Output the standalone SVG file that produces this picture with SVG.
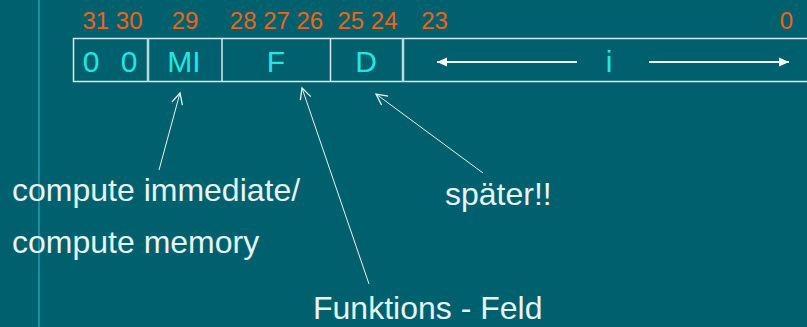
<svg xmlns="http://www.w3.org/2000/svg" width="807" height="327" viewBox="0 0 807 327">
  <defs>
    <style>
      .bits { font-family: "Liberation Sans", Arial, sans-serif; font-size: 24px; fill: #f06414; text-anchor: middle; }
      .field { font-family: "Liberation Sans", Arial, sans-serif; font-size: 30px; fill: #22e6e0; text-anchor: middle; }
      .label { font-family: "Liberation Sans", Arial, sans-serif; font-size: 32px; fill: #e6f4f4; }
      .frame { stroke: #d4ecec; stroke-width: 1.5; fill: none; }
      .sep { stroke: #b8dcdc; stroke-width: 2.5; }
      .conn { stroke: #e6f4f4; stroke-width: 1; fill: none; }
      .span { stroke: #e6f4f4; stroke-width: 2; }
    </style>
    <marker id="openHead" markerWidth="14" markerHeight="14" refX="12" refY="7" orient="auto" markerUnits="userSpaceOnUse">
      <path d="M1,1.5 L12,7 L1,12.5" fill="none" stroke="#e6f4f4" stroke-width="1.3"/>
    </marker>
    <marker id="solidHead" markerWidth="12" markerHeight="10" refX="10" refY="5" orient="auto" markerUnits="userSpaceOnUse">
      <path d="M0,0.5 L10,5 L0,9.5 Z" fill="#ffffff"/>
    </marker>
  </defs>

  <!-- slide background and margin rule -->
  <rect x="0" y="0" width="807" height="327" fill="#00606e"/>
  <line x1="39" y1="0" x2="39" y2="327" stroke="#1290a8" stroke-width="2"/>

  <!-- bit numbers -->
  <g id="bit-numbers">
    <text class="bits" x="112.5" y="29">31 30</text>
    <text class="bits" x="185" y="29">29</text>
    <text class="bits" x="276.5" y="29">28 27 26</text>
    <text class="bits" x="367.5" y="29">25 24</text>
    <text class="bits" x="434.5" y="29">23</text>
    <text class="bits" x="786.5" y="29">0</text>
  </g>

  <!-- instruction word -->
  <g id="word">
    <path class="frame" d="M808,38.5 H73.5 V81.5 H808"/>
  </g>
  <g id="field-00">
    <text class="field" x="91" y="71.5">0</text>
    <text class="field" x="129" y="71.5">0</text>
    <line class="sep" x1="148" y1="38" x2="148" y2="82"/>
  </g>
  <g id="field-MI">
    <text class="field" x="184" y="71.5">MI</text>
    <line class="frame" x1="222" y1="38" x2="222" y2="82"/>
  </g>
  <g id="field-F">
    <text class="field" x="276" y="71.5">F</text>
    <line class="frame" x1="330.5" y1="38" x2="330.5" y2="82"/>
  </g>
  <g id="field-D">
    <text class="field" x="366" y="71.5">D</text>
    <line class="sep" x1="403" y1="38" x2="403" y2="82"/>
  </g>
  <g id="field-i">
    <text class="field" x="609" y="71.5">i</text>
    <line class="span" x1="577" y1="62" x2="437" y2="62" marker-end="url(#solidHead)"/>
    <line class="span" x1="649" y1="62" x2="789" y2="62" marker-end="url(#solidHead)"/>
  </g>

  <!-- annotations -->
  <g id="label-compute">
    <text class="label" x="12" y="201">compute immediate/</text>
    <text class="label" x="12" y="253">compute memory</text>
  </g>
  <g id="label-spaeter">
    <text class="label" x="445" y="205">später!!</text>
  </g>
  <g id="label-funktion">
    <text class="label" x="313" y="319">Funktions - Feld</text>
  </g>

  <!-- pointer lines -->
  <g id="connectors">
    <line class="conn" x1="159" y1="170" x2="180" y2="93" marker-end="url(#openHead)"/>
    <line class="conn" x1="369" y1="284" x2="302" y2="88" marker-end="url(#openHead)"/>
    <line class="conn" x1="483" y1="173" x2="376" y2="94" marker-end="url(#openHead)"/>
  </g>
</svg>
